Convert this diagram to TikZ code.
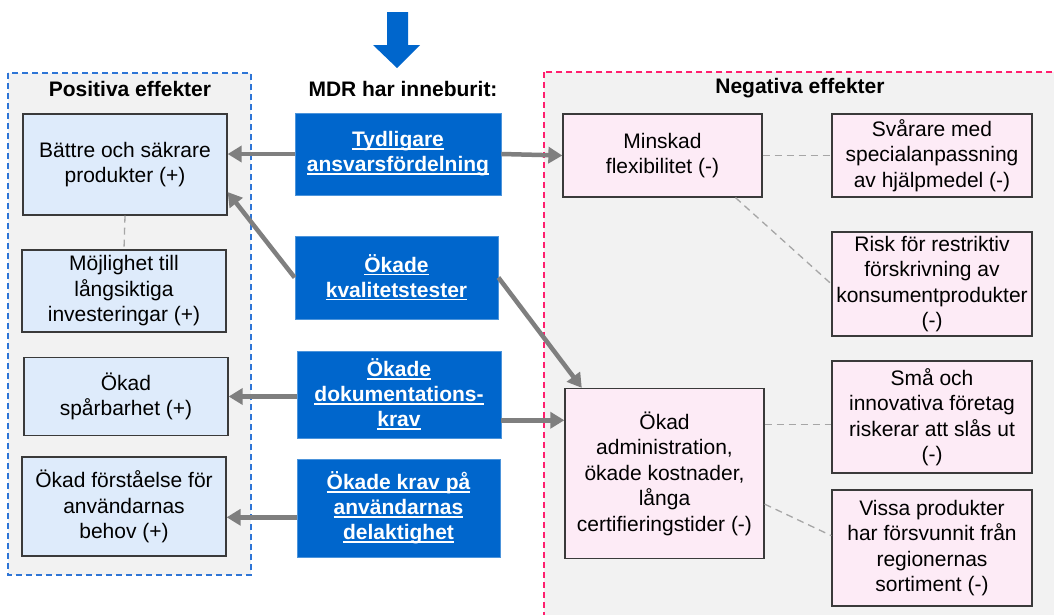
\documentclass[tikz,border=0pt]{standalone}
\usepackage{fontspec}
\setmainfont{Liberation Sans}
\newsavebox{\myulbox}
\newcommand{\myul}[1]{\sbox{\myulbox}{#1}\makebox[0pt][l]{\rule[-3pt]{\wd\myulbox}{1.5pt}}\usebox{\myulbox}}
\usetikzlibrary{arrows.meta}
\definecolor{mdrblue}{HTML}{0066CC}
\definecolor{posfill}{HTML}{DEEBFB}
\definecolor{negfill}{HTML}{FDEBF6}
\definecolor{bgray}{HTML}{F2F2F2}
\definecolor{boxline}{HTML}{3A3A3A}
\definecolor{arrowgray}{HTML}{7F7F7F}
\definecolor{dashgray}{HTML}{A6A6A6}
\definecolor{posframe}{HTML}{2E75D6}
\definecolor{negframe}{HTML}{FF1F6E}
\begin{document}
\begin{tikzpicture}[x=1pt,y=-1pt,
  bodyfont/.style={font=\fontsize{21}{25.5}\selectfont},
  pbox/.style={draw=boxline, line width=1.3pt, fill=posfill, align=center, inner sep=2pt, bodyfont},
  nbox/.style={draw=boxline, line width=1.3pt, fill=negfill, align=center, inner sep=2pt, bodyfont},
  bbox/.style={draw=mdrblue!70!white, line width=0.8pt, fill=mdrblue, text=white, align=center, inner sep=2pt, font=\fontsize{21}{25}\selectfont\bfseries},
  title/.style={font=\fontsize{21}{25}\selectfont\bfseries, inner sep=0pt},
  garrow/.style={draw=arrowgray, line width=4.5pt, -{Triangle[length=14pt,width=16pt]}},
  dcon/.style={draw=dashgray, line width=1.3pt, dash pattern=on 7pt off 5pt},
  frame/.style={line width=1.3pt, dash pattern=on 6pt off 4pt, fill=bgray}
]
\useasboundingbox (0,0) rectangle (1054,614);
\clip (0,0) rectangle (1054,614);
\fill[white] (0,0) rectangle (1054,614);

% frames
\path[frame, draw=posframe] (8,73) rectangle (251,575);
\path[frame, draw=negframe] (544,72) rectangle (1070,630);

% top arrow
\fill[mdrblue] (387,12) -- (408,12) -- (408,45) -- (420,45) -- (397,68) -- (373,45) -- (387,45) -- cycle;

% titles
\node[title] (tpos) at (130,89) {Positiva effekter};
\node[title] (tmdr) at (403,89) {MDR har inneburit:};
\node[title] (tneg) at (800,88) {Negativa effekter};

% positive boxes
\node[pbox, minimum width=204, minimum height=101] (bat) at (125,164.5) {Bättre och säkrare\\produkter (+)};
\node[pbox, minimum width=204, minimum height=82] (moj) at (124,291) {Möjlighet till\\långsiktiga\\investeringar (+)};
\node[pbox, minimum width=204, minimum height=78] (spar) at (126,396.5) {Ökad\\spårbarhet (+)};
\node[pbox, minimum width=204, minimum height=99] (forst) at (124,506.5) {Ökad förståelse för\\användarnas\\behov (+)};

% MDR boxes
\node[bbox, minimum width=206, minimum height=82] (tyd) at (398,154) {\myul{Tydligare}\\\myul{ansvarsfördelning}};
\node[bbox, minimum width=203, minimum height=83] (kval) at (396.5,277.5) {\myul{Ökade}\\\myul{kvalitetstester}};
\node[bbox, minimum width=204, minimum height=87] (dok) at (399,394.5) {\myul{Ökade}\\\myul{dokumentations-}\\\myul{krav}};
\node[bbox, minimum width=203, minimum height=98] (del) at (398.5,508) {\myul{Ökade krav på}\\\myul{användarnas}\\\myul{delaktighet}};

% negative boxes
\node[nbox, minimum width=199, minimum height=83] (min) at (662.5,155.5) {Minskad\\flexibilitet (-)};
\node[nbox, minimum width=200, minimum height=83] (sva) at (932,155.5) {Svårare med\\specialanpassning\\av hjälpmedel (-)};
\node[nbox, minimum width=200, minimum height=104] (risk) at (932,284) {Risk för restriktiv\\förskrivning av\\konsumentprodukter\\(-)};
\node[nbox, minimum width=199, minimum height=170] (adm) at (664.5,473.5) {Ökad\\administration,\\ökade kostnader,\\långa\\certifieringstider (-)};
\node[nbox, minimum width=200, minimum height=112] (sma) at (932,417) {Små och\\innovativa företag\\riskerar att slås ut\\(-)};
\node[nbox, minimum width=200, minimum height=116] (vis) at (932,548) {Vissa produkter\\har försvunnit från\\regionernas\\sortiment (-)};

% dashed links
\draw[dcon] (bat.south) -- (moj.north);
\draw[dcon] (min.east) -- (sva.west);
\draw[dcon] (min.-30) -- (risk.west);
\draw[dcon] (adm.26) -- (adm.26 -| sma.west);
\draw[dcon] (adm.-17.6) -- (vis.173);

% arrows
\draw[garrow] (tyd.west) -- (tyd.west -| bat.east);
\draw[garrow] (kval.west) -- (bat.-15);
\draw[garrow] (tyd.east) -- (min.west);
\draw[garrow] (kval.east) -- (adm.134);
\draw[garrow] (spar.east -| dok.west) -- (spar.east);
\draw[garrow] (adm.152 -| dok.east) -- (adm.152);
\draw[garrow] (forst.-6 -| del.west) -- (forst.-6);
\end{tikzpicture}
\end{document}
